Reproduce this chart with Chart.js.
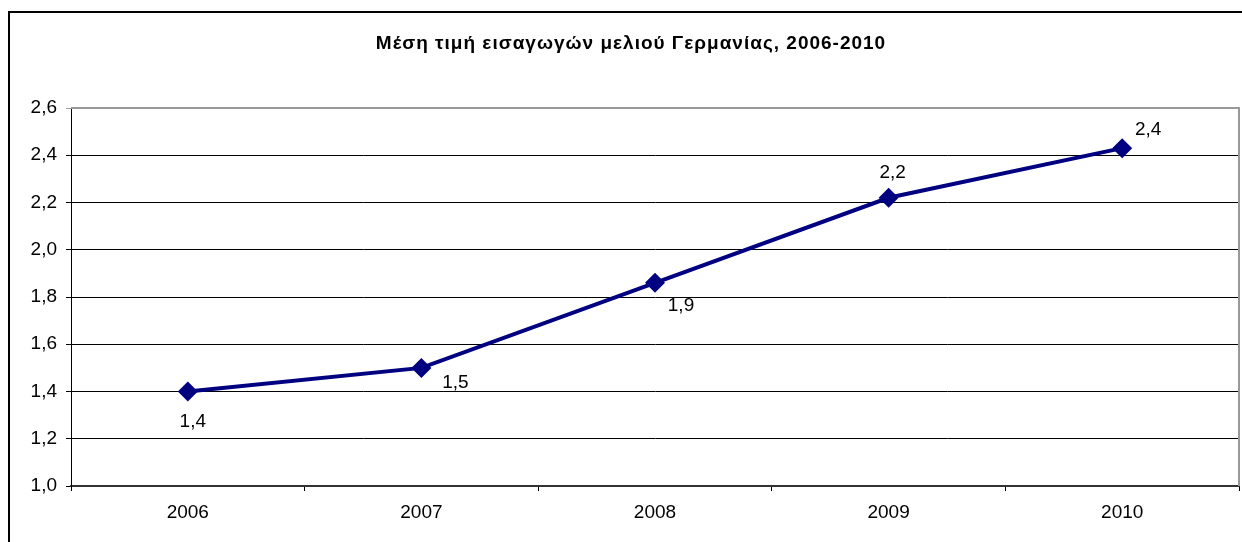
<!DOCTYPE html>
<html>
<head>
<meta charset="utf-8">
<script src="https://cdn.jsdelivr.net/npm/chart.js@4/dist/chart.umd.min.js"></script>
<style>
  html, body { margin: 0; padding: 0; background: #fff; overflow: hidden; }
  .frame { position: absolute; left: 8px; top: 11px; width: 1300px; height: 600px; border: 2px solid #000; }
  #chart { position: absolute; left: 0; top: 0; }
</style>
</head>
<body>
<div class="frame"></div>
<!-- a bit wider than the window: chart.js keeps ~11px on the right, the original plot runs to 1238 -->
<canvas id="chart" width="1249" height="542"></canvas>
<script>
// chart data
const years = ['2006', '2007', '2008', '2009', '2010'];
const prices = [1.40, 1.50, 1.86, 2.22, 2.43];
const titleText = 'Μέση τιμή εισαγωγών μελιού Γερμανίας, 2006-2010';

// label offsets from each point (excel placed them by hand)
const labelOffsets = [[5, 30], [34, 15], [26, 23], [4, -25], [26, -18]];

const fontFamily = "'Liberation Sans', Arial, sans-serif";
const fmt = v => Number(v).toFixed(1).replace('.', ',');

// title, data labels + plot border
const extras = {
  id: 'extras',
  afterDatasetsDraw(chart) {
    const { ctx, chartArea: a } = chart;
    ctx.save();
    // grey plot border on top and right
    ctx.strokeStyle = '#999';
    ctx.lineWidth = 2;
    ctx.beginPath();
    ctx.moveTo(a.left, a.top);
    ctx.lineTo(a.right, a.top);
    ctx.lineTo(a.right, a.bottom);
    ctx.stroke();
    // value labels
    ctx.fillStyle = '#000';
    ctx.font = '19px ' + fontFamily;
    ctx.textAlign = 'center';
    ctx.textBaseline = 'middle';
    chart.getDatasetMeta(0).data.forEach((pt, i) => {
      const [dx, dy] = labelOffsets[i];
      ctx.fillText(fmt(prices[i]), pt.x + dx, pt.y + dy);
    });
    // title, a bit right of centre like the original
    ctx.font = 'bold 19px ' + fontFamily;
    ctx.letterSpacing = '1px';
    ctx.fillText(titleText, 631, 44);
    ctx.restore();
  }
};

new Chart(document.getElementById('chart'), {
  type: 'line',
  data: {
    labels: years,
    datasets: [{
      data: prices,
      borderColor: '#000080',
      backgroundColor: '#000080',
      borderWidth: 4,
      pointStyle: 'rectRot',
      pointRadius: 10,
      pointBorderWidth: 0,
      tension: 0,
    }]
  },
  options: {
    responsive: false,
    animation: false,
    layout: { padding: { top: 108, right: 4, left: 0, bottom: 0 } },
    plugins: {
      legend: { display: false },
      tooltip: { enabled: false },
      title: { display: false },
    },
    scales: {
      x: {
        offset: true,
        grid: { offset: true, drawOnChartArea: false, color: '#000', tickLength: 5 },
        border: { color: '#333', width: 2 },
        ticks: { color: '#000', font: { family: fontFamily, size: 19 }, padding: 10 },
        afterFit: s => { s.height = 56; },
      },
      y: {
        min: 1,
        max: 2.6,
        ticks: {
          stepSize: 0.2,
          color: '#000',
          font: { family: fontFamily, size: 19 },
          padding: 9,
          callback: v => fmt(v),
        },
        grid: {
          color: c => (c.index === 8 ? '#999' : '#000'),
          tickLength: 5,
        },
        border: { color: '#000' },
        afterFit: s => { s.width = 71; },
      },
    },
  },
  plugins: [extras],
});
</script>
</body>
</html>
